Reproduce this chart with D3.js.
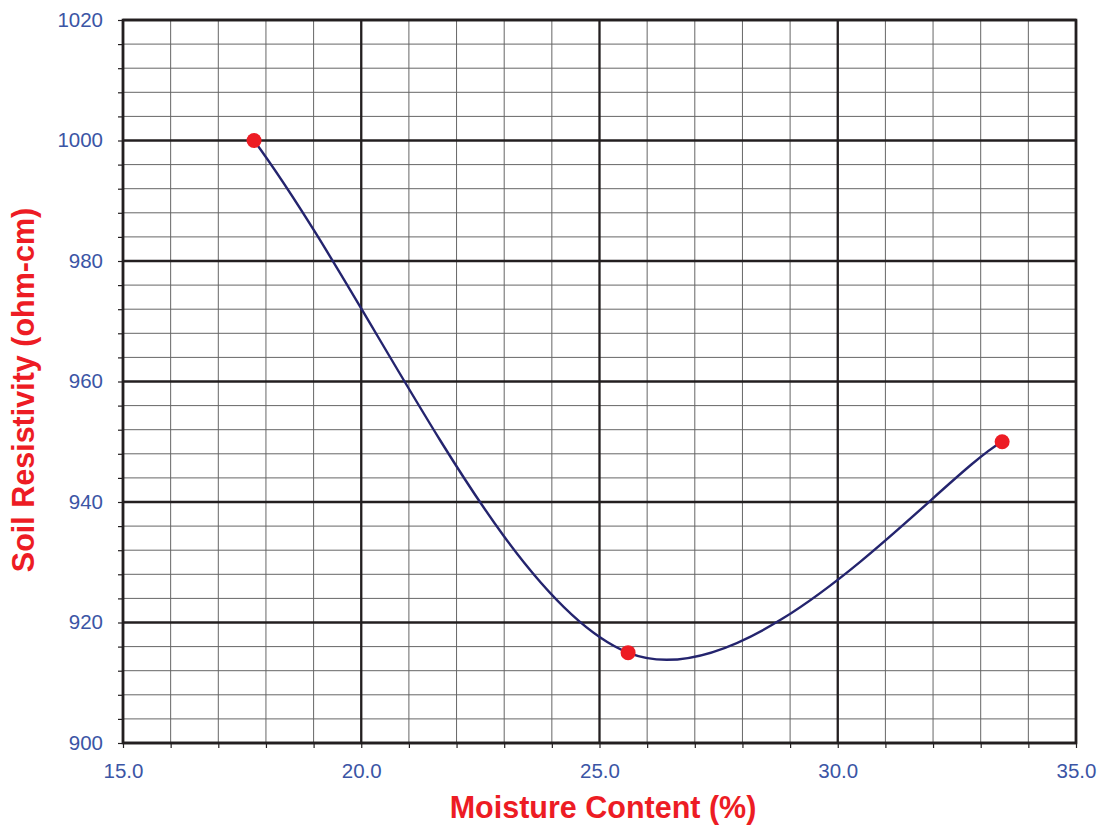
<!DOCTYPE html>
<html><head><meta charset="utf-8">
<script src="https://cdn.jsdelivr.net/npm/d3@7"></script>
<style>body{margin:0;background:#fff;} svg{display:block;}</style>
</head><body>
<svg id="c" width="1102" height="825"></svg>
<script>
const moisture = [17.75, 25.6, 33.45];
const resistivity = [1000, 915, 950];
const xTicks = [15, 20, 25, 30, 35];
const yTicks = [900, 920, 940, 960, 980, 1000, 1020];
const xTitle = "Moisture Content (%)";
const yTitle = "Soil Resistivity (ohm-cm)";

const svg = d3.select("#c");
const L = 123, R = 1076, T = 20, B = 743;
const x = d3.scaleLinear().domain([15, 35]).range([L, R]);
const y = d3.scaleLinear().domain([900, 1020]).range([B, T]);
const g = svg.append("g");

const xMinor = d3.range(15, 35.001, 1);
const yMinor = d3.range(900, 1020.001, 4);

// minor grid
g.selectAll(".xm").data(xMinor).join("line")
  .attr("x1", d => x(d)).attr("x2", d => x(d)).attr("y1", T).attr("y2", B)
  .attr("stroke", "#666").attr("stroke-width", 1);
g.selectAll(".ym").data(yMinor).join("line")
  .attr("y1", d => y(d)).attr("y2", d => y(d)).attr("x1", L).attr("x2", R)
  .attr("stroke", "#666").attr("stroke-width", 1);
// major grid
g.selectAll(".xM").data(xTicks).join("line")
  .attr("x1", d => x(d)).attr("x2", d => x(d)).attr("y1", T).attr("y2", B)
  .attr("stroke", "#231f20").attr("stroke-width", 2.3);
g.selectAll(".yM").data(yTicks).join("line")
  .attr("y1", d => y(d)).attr("y2", d => y(d)).attr("x1", L).attr("x2", R)
  .attr("stroke", "#231f20").attr("stroke-width", 2.3);
// frame
g.append("rect").attr("x", L).attr("y", T).attr("width", R - L).attr("height", B - T)
  .attr("fill", "none").attr("stroke", "#231f20").attr("stroke-width", 2.6);

// axes ticks
const xAxis = d3.axisBottom(x).tickValues(xMinor).tickSize(5).tickFormat(d => xTicks.includes(d) ? d3.format(".1f")(d) : "");
const yAxis = d3.axisLeft(y).tickValues(yMinor).tickSize(5).tickFormat(d => yTicks.includes(d) ? d : "");
const gx = svg.append("g").attr("transform", `translate(0,${B})`).call(xAxis);
const gy = svg.append("g").attr("transform", `translate(${L},0)`).call(yAxis);
[gx, gy].forEach(a => {
  a.select(".domain").remove();
  a.selectAll(".tick line").attr("stroke", "#231f20").attr("stroke-width", 1.2);
  a.selectAll("text").attr("fill", "#3b55a5").style("font-family", "Liberation Sans, Arial, sans-serif").style("font-size", "20.5px");
});
gx.selectAll("text").attr("dy", "0").attr("y", 34.5);
gy.selectAll("text").attr("x", -20).attr("dy", "0.3em");

// smoothed curve (Excel-like Bezier smoothing)
const pts = moisture.map((m, i) => [m, resistivity[i]]);
const sp = pts.map(d => [x(d[0]), y(d[1])]);
function tangent(i) {
  const n = sp.length;
  if (i === 0) return [(sp[1][0] - sp[0][0]) / 3, (sp[1][1] - sp[0][1]) / 3];
  if (i === n - 1) return [(sp[n-1][0] - sp[n-2][0]) / 6, (sp[n-1][1] - sp[n-2][1]) / 6];
  return [(sp[i+1][0] - sp[i-1][0]) / 6, (sp[i+1][1] - sp[i-1][1]) / 6];
}
const p = d3.path();
p.moveTo(sp[0][0], sp[0][1]);
for (let i = 0; i < sp.length - 1; i++) {
  const t0 = tangent(i), t1 = tangent(i + 1);
  p.bezierCurveTo(sp[i][0] + t0[0], sp[i][1] + t0[1], sp[i+1][0] - t1[0], sp[i+1][1] - t1[1], sp[i+1][0], sp[i+1][1]);
}
svg.append("path").attr("d", p.toString())
  .attr("fill", "none").attr("stroke", "#24246e").attr("stroke-width", 2.4);
svg.selectAll(".pt").data(pts).join("circle")
  .attr("cx", d => x(d[0])).attr("cy", d => y(d[1])).attr("r", 7.5).attr("fill", "#ed1c24");

// titles
svg.append("text").attr("x", 603).attr("y", 818).attr("text-anchor", "middle")
  .attr("fill", "#ed1c24").style("font-family", "Liberation Sans, Arial, sans-serif")
  .style("font-size", "30.5px").style("font-weight", "bold").text(xTitle);
svg.append("text").attr("transform", `translate(34,390) rotate(-90)`).attr("text-anchor", "middle")
  .attr("fill", "#ed1c24").style("font-family", "Liberation Sans, Arial, sans-serif")
  .style("font-size", "30.5px").style("font-weight", "bold").text(yTitle);
</script>
</body></html>
